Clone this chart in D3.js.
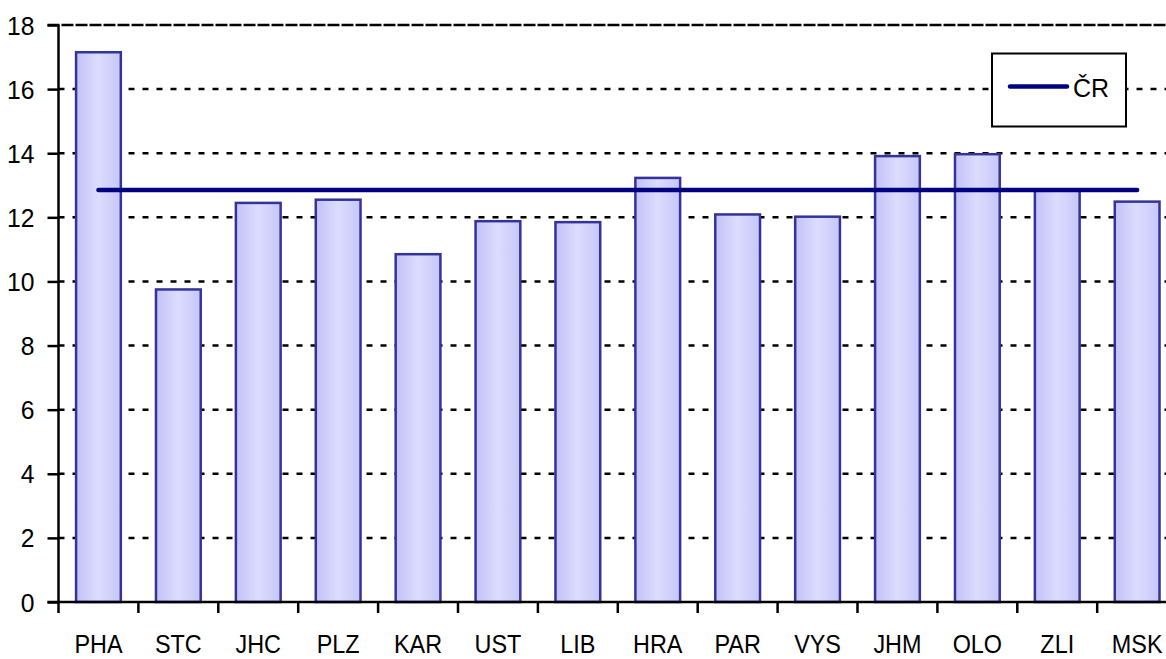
<!DOCTYPE html>
<html>
<head>
<meta charset="utf-8">
<script src="https://cdn.jsdelivr.net/npm/d3@7"></script>
<style>
html,body{margin:0;padding:0;background:#fff;overflow:hidden;}
svg{display:block;}
text{font-family:"Liberation Sans",Arial,sans-serif;fill:#000;}
</style>
</head>
<body>
<svg id="chart" width="1166" height="659"></svg>
<script>
const categories = ["PHA","STC","JHC","PLZ","KAR","UST","LIB","HRA","PAR","VYS","JHM","OLO","ZLI","MSK"];
const values = [17.15, 9.75, 12.45, 12.55, 10.85, 11.88, 11.85, 13.23, 12.09, 12.02, 13.91, 13.97, 12.85, 12.49];
const crValue = 12.85;
const crLabel = "ČR";
const yTicks = [0,2,4,6,8,10,12,14,16,18];

(function(){
const svg = d3.select("#chart");
const pLeft = 58.5, pTop = 25, pBottom = 602, step = 79.9;
const pRight = pLeft + step * categories.length;

const x = d3.scaleBand().domain(categories).range([pLeft, pRight]).paddingInner(0.44).paddingOuter(0.22);
const xb = d3.scaleBand().domain(categories).range([pLeft, pRight]);
const y = d3.scaleLinear().domain([0, 18]).range([pBottom, pTop]);

const defs = svg.append("defs");
const g = defs.append("linearGradient").attr("id","barGrad").attr("x1","0%").attr("x2","100%").attr("y1","0%").attr("y2","0%");
g.append("stop").attr("offset","0%").attr("stop-color","#c2c2f6");
g.append("stop").attr("offset","50%").attr("stop-color","#dcdcff");
g.append("stop").attr("offset","100%").attr("stop-color","#c6c6f8");

// gridlines
svg.append("g").selectAll("line").data(yTicks.filter(d => d > 0 && d < 18)).join("line")
  .attr("x1", pLeft).attr("x2", 1166)
  .attr("y1", d => y(d)).attr("y2", d => y(d))
  .attr("stroke", "#000").attr("stroke-width", 2.5)
  .attr("stroke-dasharray", "6,8");
// top border line
svg.append("line").attr("x1", pLeft - 11).attr("x2", 1166).attr("y1", y(18)).attr("y2", y(18))
  .attr("stroke", "#000").attr("stroke-width", 2.5).attr("stroke-dasharray", "12,2");

// bars
svg.append("g").selectAll("rect").data(values).join("rect")
  .attr("x", (d, i) => x(categories[i]))
  .attr("width", x.bandwidth())
  .attr("y", d => y(d))
  .attr("height", d => y(0) - y(d))
  .attr("fill", "url(#barGrad)")
  .attr("stroke", "#333399").attr("stroke-width", 2.5);

// CR line
svg.append("line")
  .attr("x1", xb(categories[0]) + xb.bandwidth()/2)
  .attr("x2", xb(categories[categories.length-1]) + xb.bandwidth()/2)
  .attr("y1", y(crValue)).attr("y2", y(crValue))
  .attr("stroke", "#000080").attr("stroke-width", 4.5).attr("stroke-linecap", "round");

// y axis
const yAxis = svg.append("g").attr("transform", `translate(${pLeft},0)`)
  .call(d3.axisLeft(y).tickValues(yTicks).tickSize(11).tickPadding(0).tickFormat(d3.format("d")));
yAxis.select(".domain").remove();
yAxis.selectAll(".tick line").attr("stroke", "#000").attr("stroke-width", 2.5);
yAxis.selectAll(".tick text").remove();
yAxis.selectAll(".tick").append("text")
  .attr("text-anchor", "end")
  .attr("transform", "translate(-24,9) scale(0.95,1)")
  .attr("font-size", 26)
  .text(d => d);
svg.append("line").attr("x1", pLeft).attr("x2", pLeft).attr("y1", pTop).attr("y2", pBottom)
  .attr("stroke", "#000").attr("stroke-width", 2.5);

// x axis
const xAxis = svg.append("g").attr("transform", `translate(0,${pBottom})`)
  .call(d3.axisBottom(xb).tickSize(0).tickFormat(""));
xAxis.select(".domain").remove();
svg.append("line").attr("x1", pLeft - 11).attr("x2", 1166).attr("y1", pBottom).attr("y2", pBottom)
  .attr("stroke", "#000").attr("stroke-width", 2.5);
const tickPos = d3.range(categories.length + 1).map(i => pLeft + i * xb.step());
svg.append("g").selectAll("line").data(tickPos).join("line")
  .attr("x1", d => d).attr("x2", d => d).attr("y1", pBottom).attr("y2", pBottom + 11)
  .attr("stroke", "#000").attr("stroke-width", 2.5);
svg.append("g").selectAll("text").data(categories).join("text")
  .attr("text-anchor", "middle")
  .attr("font-size", 26)
  .attr("transform", d => `translate(${xb(d) + xb.bandwidth()/2},653) scale(0.9,1)`)
  .text(d => d);

// legend
const lg = svg.append("g");
lg.append("rect").attr("x", 992).attr("y", 53.5).attr("width", 134).attr("height", 73)
  .attr("fill", "#fff").attr("stroke", "#000").attr("stroke-width", 2);
lg.append("line").attr("x1", 1010).attr("x2", 1067).attr("y1", 86.5).attr("y2", 86.5)
  .attr("stroke", "#000080").attr("stroke-width", 4.5).attr("stroke-linecap", "round");
lg.append("text").attr("x", 1073).attr("y", 97).attr("font-size", 25).text(crLabel);
})();
</script>
</body>
</html>
